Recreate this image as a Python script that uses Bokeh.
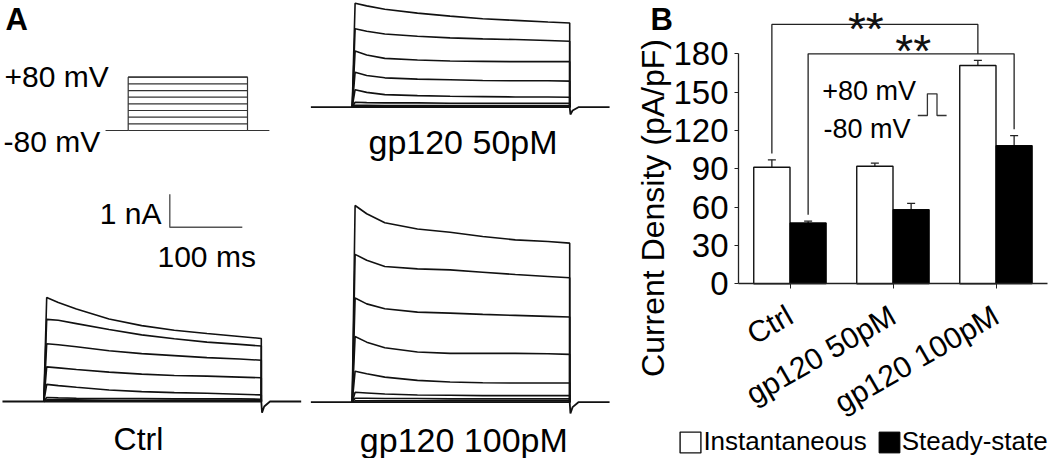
import math
from bokeh.plotting import figure
from bokeh.models import (Range1d, ColumnDataSource, Whisker, Label, FixedTicker, TeeHead)
from bokeh.transform import dodge
from bokeh.layouts import row
from bokeh.embed import file_html
from bokeh.resources import INLINE
from bokeh.core.properties import value

# ---------------------------------------------------------------- data
# Panel A - voltage protocol (mV) and its timing (ms)
protocol_mv = [-80, -60, -40, -20, 0, 20, 40, 60, 80]
protocol_hold_ms = [-57, 0, 300, 355]

# Panel A - current traces (nA above baseline) sampled after step onset (ms)
trace_ms = [4, 20, 45, 90, 135, 180, 225, 270, 300]
ctrl_na = [
    [3.15, 3.00, 2.80, 2.50, 2.30, 2.16, 2.06, 1.97, 1.91],
    [2.49, 2.46, 2.36, 2.18, 2.02, 1.90, 1.80, 1.73, 1.68],
    [1.75, 1.72, 1.66, 1.54, 1.45, 1.39, 1.33, 1.29, 1.25],
    [1.05, 1.02, 0.97, 0.89, 0.83, 0.79, 0.77, 0.74, 0.72],
    [0.52, 0.48, 0.43, 0.35, 0.30, 0.27, 0.25, 0.22, 0.20],
    [0.12, 0.11, 0.10, 0.09, 0.09, 0.08, 0.08, 0.08, 0.07],
    [0.05, 0.05, 0.05, 0.04, 0.04, 0.04, 0.04, 0.04, 0.04],
    [0.02, 0.02, 0.02, 0.02, 0.02, 0.02, 0.02, 0.02, 0.02],
]
gp50_na = [
    [3.15, 3.07, 2.97, 2.85, 2.76, 2.68, 2.63, 2.58, 2.55],
    [2.38, 2.30, 2.22, 2.15, 2.10, 2.07, 2.05, 2.02, 2.00],
    [1.70, 1.58, 1.48, 1.43, 1.40, 1.39, 1.38, 1.38, 1.38],
    [1.06, 0.96, 0.89, 0.85, 0.83, 0.81, 0.80, 0.80, 0.79],
    [0.53, 0.45, 0.38, 0.35, 0.33, 0.32, 0.31, 0.31, 0.30],
    [0.15, 0.14, 0.13, 0.13, 0.12, 0.12, 0.12, 0.12, 0.12],
    [0.06, 0.06, 0.05, 0.05, 0.05, 0.05, 0.05, 0.05, 0.05],
    [0.03, 0.03, 0.03, 0.02, 0.02, 0.02, 0.02, 0.02, 0.02],
]
gp100_na = [
    [5.96, 5.71, 5.44, 5.25, 5.15, 5.02, 4.92, 4.87, 4.82],
    [4.48, 4.30, 4.11, 4.04, 4.01, 3.94, 3.87, 3.81, 3.77],
    [3.16, 2.98, 2.83, 2.73, 2.70, 2.66, 2.63, 2.60, 2.58],
    [1.99, 1.82, 1.65, 1.52, 1.48, 1.48, 1.48, 1.47, 1.45],
    [0.94, 0.86, 0.76, 0.66, 0.61, 0.59, 0.58, 0.58, 0.58],
    [0.30, 0.28, 0.25, 0.22, 0.21, 0.20, 0.20, 0.20, 0.20],
    [0.12, 0.12, 0.11, 0.11, 0.10, 0.10, 0.10, 0.10, 0.10],
    [0.04, 0.04, 0.04, 0.04, 0.04, 0.04, 0.04, 0.04, 0.04],
]
# holding current with the tail notch after the step
holding_ms = [-57, 300, 301, 304, 312, 355]
ctrl_tail_na = [0, 0, -0.34, -0.15, 0, 0]
gp50_tail_na = [0, 0, -0.22, -0.10, 0, 0]
gp100_tail_na = [0, 0, -0.34, -0.15, 0, 0]
scale_bar_na = 1
scale_bar_ms = 100

# Panel B - current density (pA/pF)
groups = ["Ctrl", "gp120 50pM", "gp120 100pM"]
instantaneous = [91.2, 92.0, 170.8]
instantaneous_err = [5.8, 2.4, 4.0]
steady_state = [47.7, 58.1, 108.2]
steady_state_err = [1.3, 4.9, 7.8]
y_ticks = [0, 30, 60, 90, 120, 150, 180]
comparisons = [("Ctrl", "gp120 100pM", "inst", "**"),
               ("Ctrl", "gp120 100pM", "ss", "**")]

# ---------------------------------------------------------------- layout
FONT = "Liberation Sans"
W, H = 1050, 458
WA = 630                                  # width of panel A figure
WB = W - WA


def ay(yr):
    return H - yr


def bare(p):
    p.grid.visible = False
    p.outline_line_color = None
    p.min_border_left = p.min_border_right = p.min_border_top = p.min_border_bottom = 0
    if "frame_align" in p.properties():
        p.frame_align = False


# ================================================================ panel A
pA = figure(width=WA, height=H, x_range=Range1d(0, WA), y_range=Range1d(0, H),
            output_backend="svg", toolbar_location=None)
bare(pA)
pA.axis.visible = False


def sub_ranges(origin, kx, ky):
    ox = origin[0]
    oy = H - origin[1]
    return Range1d(-ox / kx, (WA - ox) / kx), Range1d(-oy / ky, (H - oy) / ky)


PX_PER_MS, PX_PER_NA = 0.725, 33.0
panels = [
    ("ctrl", (43.3, 401.0), ctrl_na, ctrl_tail_na),
    ("g50", (351.7, 106.7), gp50_na, gp50_tail_na),
    ("g100", (351.7, 401.7), gp100_na, gp100_tail_na),
]
for name, origin, traces, tail in panels:
    xr, yr = sub_ranges(origin, PX_PER_MS, PX_PER_NA)
    pA.extra_x_ranges[name + "_x"] = xr
    pA.extra_y_ranges[name + "_y"] = yr
    xs = [[0] + trace_ms + [trace_ms[-1]] for _ in traces]
    ys = [[0] + tr + [0] for tr in traces]
    pA.multi_line(xs=xs, ys=ys, line_color="#111111", line_width=1.6,
                  x_range_name=name + "_x", y_range_name=name + "_y")
    pA.line(x=holding_ms, y=tail, line_color="#111111", line_width=1.8,
            x_range_name=name + "_x", y_range_name=name + "_y")

# scale bar (in the Ctrl panel's units)
sb_t0 = (169.3 - 43.3) / PX_PER_MS
sb_i0 = (401.0 - 226.7) / PX_PER_NA
pA.line(x=[sb_t0, sb_t0, sb_t0 + scale_bar_ms], y=[sb_i0 + scale_bar_na, sb_i0, sb_i0],
        line_color="#555555", line_width=1.4, x_range_name="ctrl_x", y_range_name="ctrl_y")

# voltage protocol
pxr, pyr = sub_ranges((127.7, 103.35), 119.3 / 300.0, 53.3 / 160.0)
pA.extra_x_ranges["prot_x"] = pxr
pA.extra_y_ranges["prot_y"] = pyr
t_on, t_off = protocol_hold_ms[1], protocol_hold_ms[2]
pA.multi_line(xs=[[t_on, t_off] for _ in protocol_mv], ys=[[v, v] for v in protocol_mv],
              line_color="#333333", line_width=1.2, x_range_name="prot_x", y_range_name="prot_y")
vmin, vmax = min(protocol_mv), max(protocol_mv)
pA.line(x=[protocol_hold_ms[0], t_on, t_on, t_off, t_off, protocol_hold_ms[3]],
        y=[vmin, vmin, vmax, vmax, vmin, vmin],
        line_color="#333333", line_width=1.2, x_range_name="prot_x", y_range_name="prot_y")


def labA(text, xr, yr, size, align="left", bold=False):
    pA.add_layout(Label(x=xr, y=ay(yr), text=text, text_font=FONT,
                        text_font_size=f"{size}px", text_align=align, text_baseline="middle",
                        text_font_style="bold" if bold else "normal", text_color="black"))


labA("A", 5, 18.5, 31, bold=True)
labA("+80 mV", 4, 76, 30)
labA("-80 mV", 3, 141, 30)
labA("gp120 50pM", 462.5, 141, 34, align="center")
labA("1 nA", 161, 212.5, 30, align="right")
labA("100 ms", 157, 256, 30)
labA("Ctrl", 138, 438, 32, align="center")
labA("gp120 100pM", 463.3, 439, 34, align="center")

# ================================================================ panel B
X0_PX = 738 - WA                           # px (in panel B) where the category axis starts
CAT_PX = (1047 - 738) / len(groups)
Y0_PX = 283.3                              # px from top of the zero line
PPU = (Y0_PX - 53.3) / 180.0               # pixels per pA/pF

pB = figure(width=WB, height=H,
            x_range=Range1d(-X0_PX / CAT_PX, (WB - X0_PX) / CAT_PX),
            y_range=Range1d(-(H - Y0_PX) / PPU, Y0_PX / PPU),
            output_backend="svg", toolbar_location=None)
bare(pB)


def bx(xr):
    return (xr - WA - X0_PX) / CAT_PX


def by(yr):
    return (Y0_PX - yr) / PPU


OFF, BW = 0.176, 0.352
centers = [i + 0.5 for i in range(len(groups))]
src = ColumnDataSource(dict(
    xc=centers,
    inst=instantaneous,
    inst_lo=[v - e for v, e in zip(instantaneous, instantaneous_err)],
    inst_hi=[v + e for v, e in zip(instantaneous, instantaneous_err)],
    ss=steady_state,
    ss_lo=[v - e for v, e in zip(steady_state, steady_state_err)],
    ss_hi=[v + e for v, e in zip(steady_state, steady_state_err)],
))
pB.vbar(x=dodge("xc", -OFF), top="inst", bottom=0, width=BW, source=src,
        fill_color="white", line_color="#111111", line_width=1.4, legend_label="Instantaneous")
pB.vbar(x=dodge("xc", OFF), top="ss", bottom=0, width=BW, source=src,
        fill_color="black", line_color="black", line_width=1.0, legend_label="Steady-state")

for off, lo, hi in [(-OFF, "inst_lo", "inst_hi"), (OFF, "ss_lo", "ss_hi")]:
    w = Whisker(base=dodge("xc", off), lower=lo, upper=hi, source=src,
                line_color="#222222", line_width=1.3,
                upper_head=TeeHead(size=8, line_color="#222222", line_width=1.3),
                lower_head=TeeHead(size=8, line_color="#222222", line_width=1.3))
    pB.add_layout(w)

# significance brackets
bracket_tops = [203.0, 180.0]
star_shift = [-3.8, 2.0]          # vertical nudge of the stars (pA/pF)
star_dx_px = [-9.0, 2.0]          # horizontal nudge of the stars (px)
GAP = 5.0
series = {"inst": (instantaneous, instantaneous_err, -OFF),
          "ss": (steady_state, steady_state_err, OFF)}
b_xs, b_ys, s_x, s_y, s_t = [], [], [], [], []
for (g1, g2, key, star), top, sh, dx in zip(comparisons, bracket_tops, star_shift, star_dx_px):
    vals, errs, off = series[key]
    i1, i2 = groups.index(g1), groups.index(g2)
    x1, x2 = centers[i1] + off, centers[i2] + off
    f1 = vals[i1] + errs[i1] + GAP
    f2 = vals[i2] + errs[i2] + GAP
    b_xs.append([x1, x1, x2, x2])
    b_ys.append([f1, top, top, f2])
    s_x.append((x1 + x2) / 2 + dx / CAT_PX)
    s_y.append(top + sh)
    s_t.append(star)
pB.multi_line(xs=b_xs, ys=b_ys, line_color="#222222", line_width=1.3)
pB.text(x=s_x, y=s_y, text=s_t, text_font=value(FONT), text_font_size="46px",
        text_align="center", text_baseline="middle", text_color="#111111")

# axes (drawn at the data origin, so they take no border space)
yax = pB.yaxis[0]
yax.fixed_location = 0
yax.bounds = (0, 180)
yax.ticker = FixedTicker(ticks=y_ticks)
yax.minor_tick_line_color = None
yax.major_tick_out = 4
yax.major_tick_in = 0
yax.major_label_standoff = 6
yax.major_label_text_font = FONT
yax.major_label_text_font_size = "33px"
yax.major_label_text_color = "black"
yax.axis_line_color = "#222222"
yax.axis_line_width = 1.3
yax.major_tick_line_color = "#222222"

xax = pB.xaxis[0]
xax.fixed_location = 0
xax.bounds = (0, len(groups))
xax.ticker = FixedTicker(ticks=centers)
xax.major_label_overrides = {c: g for c, g in zip(centers, groups)}
xax.minor_tick_line_color = None
xax.major_label_orientation = math.pi / 6
xax.major_tick_out = 5
xax.major_tick_in = 0
xax.major_label_standoff = 24
xax.major_label_text_font = FONT
xax.major_label_text_font_size = "30px"
xax.major_label_text_color = "black"
xax.axis_line_color = "#222222"
xax.axis_line_width = 1.3
xax.major_tick_line_color = "#222222"


def labB(text, xr, yr, size, align="left", bold=False, angle=0.0):
    pB.add_layout(Label(x=bx(xr), y=by(yr), text=text, text_font=FONT,
                        text_font_size=f"{size}px", text_align=align, text_baseline="middle",
                        text_font_style="bold" if bold else "normal", angle=angle,
                        text_color="black"))


labB("B", 650, 18.5, 31, bold=True)
labB("Current Density (pA/pF)", 652.5, 207.5, 32, align="center", angle=math.pi / 2)
labB("+80 mV", 821.7, 90.8, 27)
labB("-80 mV", 823, 128, 27)

# pulse icon of the inset
pulse_shape_x = [0, 1, 1, 2, 2, 3]
pulse_shape_y = [0, 0, 1, 1, 0, 0]
px0, pw = 917.3, 9.6
py0, ph = 115.0, 21.7
pB.line(x=[bx(px0 + pw * u) for u in pulse_shape_x],
        y=[by(py0 - ph * v) for v in pulse_shape_y],
        line_color="#333333", line_width=1.3)

# legend
leg = pB.legend[0]
leg.orientation = "horizontal"
leg.glyph_width = 26
leg.glyph_height = 26
leg.label_standoff = 0
leg.spacing = 9
leg.padding = 0
leg.margin = 0
leg.border_line_color = None
leg.background_fill_alpha = 0
leg.label_text_font = FONT
leg.label_text_font_size = "26px"
leg.label_text_color = "black"
leg.location = (677.4 - WA, 1)

layout = row(pA, pB)
open("out.html", "w").write(file_html(layout, INLINE))
